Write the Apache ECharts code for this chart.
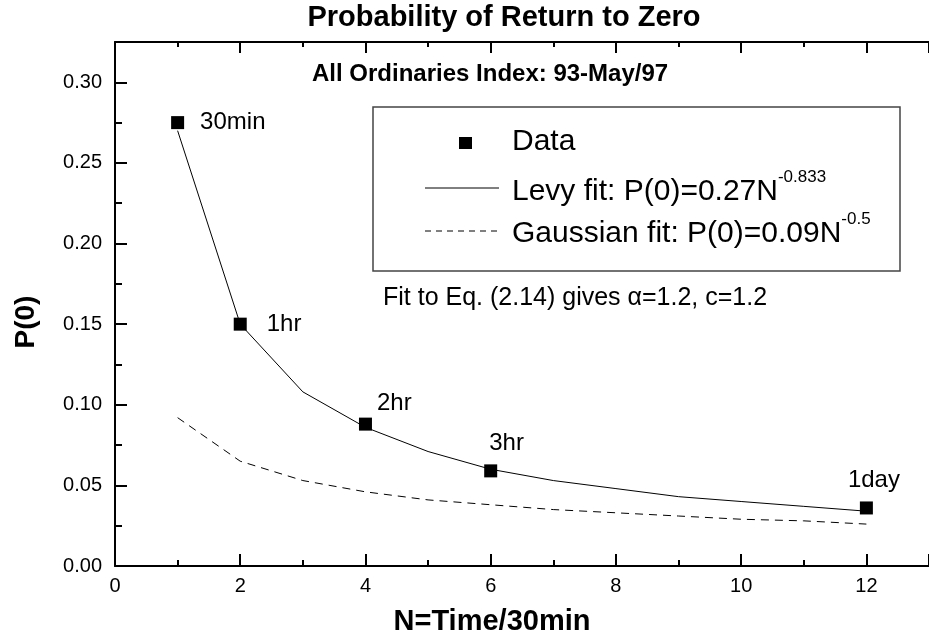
<!DOCTYPE html>
<html>
<head>
<meta charset="utf-8">
<script src="https://cdn.jsdelivr.net/npm/echarts@6/dist/echarts.min.js"></script>
<style>
    html, body { margin: 0; padding: 0; background: #fff; }
    #chart { width: 929px; height: 639px; }
</style>
</head>
<body>
<div id="chart"></div>
<script>
// fitted curves, sampled at N = 1..12
const fitN = [1, 2, 3, 4, 5, 6, 7, 8, 9, 10, 11, 12]
const levyFit = [0.270, 0.150, 0.108, 0.086, 0.071, 0.060, 0.053, 0.048, 0.043, 0.040, 0.037, 0.034]
const gaussFit = [0.092, 0.065, 0.053, 0.046, 0.041, 0.038, 0.035, 0.033, 0.031, 0.029, 0.028, 0.026]

// measured points
const dataN = [1, 2, 4, 6, 12]
const dataP = [0.275, 0.150, 0.088, 0.059, 0.036]
const dataNames = ['30min', '1hr', '2hr', '3hr', '1day']

const font = 'Liberation Sans, Arial, Helvetica, sans-serif'

// where each point label sits relative to its marker
const labelPlace = [
    { distance: 16, offset: [0, 0] },
    { distance: 20, offset: [0, 0] },
    { distance: 5, offset: [0, -21] },
    { distance: 0, offset: [-8, -27] },
    { distance: 0, offset: [-25, -28] }
]

function axisX(pos) {
    const top = pos === 'top'
    return {
        type: 'value',
        position: pos,
        min: 0,
        max: 13,
        interval: 2,
        axisLine: { lineStyle: { color: '#000', width: 2 } },
        axisTick: { inside: true, length: top ? 11 : 12, lineStyle: { color: '#000', width: 2 } },
        minorTick: { show: true, splitNumber: 2, length: top ? 5 : 6, lineStyle: { color: '#000', width: 2 } },
        splitLine: { show: false },
        axisLabel: {
            show: !top, margin: 10, color: '#000', fontSize: 20, fontFamily: font,
            showMaxLabel: false
        }
    }
}

const chart = echarts.init(document.getElementById('chart'))

const option = {
    animation: false,
    backgroundColor: '#fff',
    grid: { left: 115, right: -5, top: 42, bottom: 73 },
    xAxis: [axisX('bottom'), axisX('top')],
    yAxis: {
        type: 'value',
        min: 0,
        max: 0.325,
        interval: 0.05,
        axisLine: { lineStyle: { color: '#000', width: 2 } },
        axisTick: { inside: true, length: 12, lineStyle: { color: '#000', width: 2 } },
        minorTick: { show: true, splitNumber: 2, length: 7, lineStyle: { color: '#000', width: 2 } },
        splitLine: { show: false },
        axisLabel: {
            margin: 13, color: '#000', fontSize: 20, fontFamily: font,
            showMaxLabel: false,
            formatter: v => v.toFixed(2)
        }
    },
    series: [
        {
            name: 'Levy fit',
            type: 'line',
            symbol: 'none',
            silent: true,
            lineStyle: { color: '#000', width: 1 },
            data: fitN.map((n, i) => [n, levyFit[i]])
        },
        {
            name: 'Gaussian fit',
            type: 'line',
            symbol: 'none',
            silent: true,
            lineStyle: { color: '#000', width: 1, type: [8, 6] },
            data: fitN.map((n, i) => [n, gaussFit[i]])
        },
        {
            name: 'Data',
            type: 'scatter',
            symbol: 'rect',
            symbolSize: 13,
            itemStyle: { color: '#000', opacity: 1 },
            z: 5,
            data: dataN.map((n, i) => ({
                value: [n, dataP[i]],
                label: {
                    show: true,
                    position: 'right',
                    formatter: dataNames[i],
                    distance: labelPlace[i].distance,
                    offset: labelPlace[i].offset,
                    color: '#000',
                    opacity: 1,
                    fontSize: 24,
                    fontFamily: font
                }
            }))
        }
    ],
    graphic: [
        {
            type: 'text', x: 504, y: 18, z: 10,
            style: { text: 'Probability of Return to Zero', align: 'center', verticalAlign: 'middle',
                fontSize: 29, fontWeight: 'bold', fontFamily: font, fill: '#000' }
        },
        {
            type: 'text', x: 312, y: 74, z: 10,
            style: { text: 'All Ordinaries Index: 93-May/97', align: 'left', verticalAlign: 'middle',
                fontSize: 24, fontWeight: 'bold', fontFamily: font, fill: '#000' }
        },
        {
            type: 'text', x: 492, y: 622, z: 10,
            style: { text: 'N=Time/30min', align: 'center', verticalAlign: 'middle',
                fontSize: 29, fontWeight: 'bold', fontFamily: font, fill: '#000' }
        },
        {
            type: 'text', x: 26, y: 322, rotation: Math.PI / 2, z: 10,
            style: { text: 'P(0)', align: 'center', verticalAlign: 'middle',
                fontSize: 28, fontWeight: 'bold', fontFamily: font, fill: '#000' }
        },
        // legend box
        {
            type: 'rect', z: 10,
            shape: { x: 373, y: 107, width: 527, height: 164 },
            style: { fill: '#fff', stroke: '#444', lineWidth: 1.5 }
        },
        {
            type: 'rect', z: 11,
            shape: { x: 459, y: 137, width: 13, height: 12 },
            style: { fill: '#000' }
        },
        {
            type: 'line', z: 11,
            shape: { x1: 425, y1: 188, x2: 499, y2: 188 },
            style: { stroke: '#000', lineWidth: 1 }
        },
        {
            type: 'line', z: 11,
            shape: { x1: 425, y1: 231, x2: 499, y2: 231 },
            style: { stroke: '#000', lineWidth: 1, lineDash: [6, 5] }
        },
        {
            type: 'text', x: 512, y: 142, z: 11,
            style: { text: 'Data', verticalAlign: 'middle', fontSize: 30, fontFamily: font, fill: '#000' }
        },
        {
            type: 'text', x: 512, y: 192, z: 11,
            style: {
                text: '{b|Levy fit: P(0)=0.27N}{s|-0.833}',
                verticalAlign: 'middle', fontFamily: font, fill: '#000',
                rich: {
                    b: { fontSize: 30, lineHeight: 46, fontFamily: font },
                    s: { fontSize: 17, verticalAlign: 'top', fontFamily: font }
                }
            }
        },
        {
            type: 'text', x: 512, y: 234, z: 11,
            style: {
                text: '{b|Gaussian fit: P(0)=0.09N}{s|-0.5}',
                verticalAlign: 'middle', fontFamily: font, fill: '#000',
                rich: {
                    b: { fontSize: 30, lineHeight: 46, fontFamily: font },
                    s: { fontSize: 17, verticalAlign: 'top', fontFamily: font }
                }
            }
        },
        {
            type: 'text', x: 383, y: 298, z: 11,
            style: { text: 'Fit to Eq. (2.14) gives \u03b1=1.2, c=1.2', verticalAlign: 'middle',
                fontSize: 25, fontFamily: font, fill: '#000' }
        }
    ]
}

chart.setOption(option)
</script>
</body>
</html>
